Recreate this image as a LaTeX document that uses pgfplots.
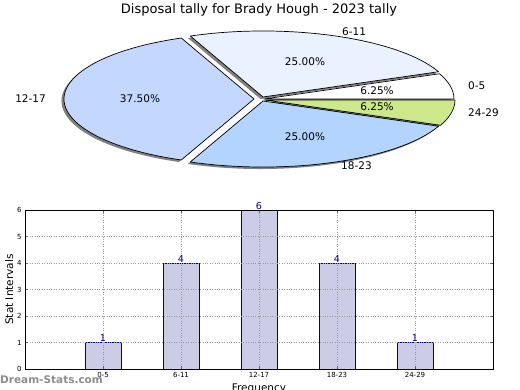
\documentclass[border=0pt]{standalone}
\usepackage{fontspec}
\setmainfont{DejaVu Sans}
\usepackage{pgfplots}
\pgfplotsset{compat=1.18}
\usepackage{pgfplotstable}

\definecolor{sA}{RGB}{255,255,255}
\definecolor{sB}{RGB}{234,242,255}
\definecolor{sC}{RGB}{196,216,255}
\definecolor{sD}{RGB}{179,212,255}
\definecolor{sE}{RGB}{204,232,138}
\definecolor{barfill}{RGB}{204,204,230}
\definecolor{navyc}{RGB}{0,0,128}

\pgfplotstableread{
x y
0 1
1 4
2 6
3 4
4 1
}\bardata

% start angle, end angle, colour, dx, dy (pixels, dy downwards)
\newcommand\pieslice[5]{%
  \fill[#3,draw=black,line width=0.7pt,line join=round]
    (axis cs:{263+#4},{-99-#5}) -- ++(#1:190pt and 66pt)
    arc[start angle=#1,end angle=#2,x radius=190pt,y radius=66pt] -- cycle;}
\newcommand\pieshadow[5]{%
  \fill[black!50]
    (axis cs:{263+#4-2.5},{-99-#5-2}) -- ++(#1:190pt and 66pt)
    arc[start angle=#1,end angle=#2,x radius=190pt,y radius=66pt] -- cycle;}

\begin{document}
\begin{tikzpicture}[x=1pt,y=1pt]
\begin{axis}[at={(0pt,0pt)}, anchor=north west, scale only axis,
  width=520pt, height=200pt, xmin=0, xmax=520, ymin=-200, ymax=0,
  hide axis, clip=false]
% shadows (slices: 1,4,6,4,1 of 16)
\pieshadow{0}{22.5}{sA}{1}{0}
\pieshadow{22.5}{112.5}{sB}{0}{-2}
\pieshadow{112.5}{247.5}{sC}{-9}{0}
\pieshadow{247.5}{337.5}{sD}{0}{2}
\pieshadow{337.5}{360}{sE}{2}{1}
% wedges
\pieslice{0}{22.5}{sA}{1}{0}
\pieslice{22.5}{112.5}{sB}{0}{-2}
\pieslice{112.5}{247.5}{sC}{-9}{0}
\pieslice{247.5}{337.5}{sD}{0}{2}
\pieslice{337.5}{360}{sE}{2}{1}
% labels
\begin{scope}[font=\fontsize{10.5}{12}\selectfont]
\node[anchor=west,inner sep=0pt] at (axis cs:342,-32) {6-11};
\node[anchor=west,inner sep=0pt] at (axis cs:468,-86) {0-5};
\node[anchor=east,inner sep=0pt] at (axis cs:46,-99) {12-17};
\node[anchor=west,inner sep=0pt] at (axis cs:341,-166) {18-23};
\node[anchor=west,inner sep=0pt] at (axis cs:468,-113) {24-29};
\node at (axis cs:305,-62) {25.00\%};
\node at (axis cs:377,-91) {6.25\%};
\node at (axis cs:140,-99) {37.50\%};
\node at (axis cs:305,-137) {25.00\%};
\node at (axis cs:377,-107) {6.25\%};
\end{scope}
\node[font=\fontsize{13}{15}\selectfont] at (axis cs:259,-10) {Disposal tally for Brady Hough - 2023 tally};
\end{axis}

\begin{axis}[at={(25pt,-369pt)}, anchor=south west, scale only axis,
  width=468pt, height=159pt,
  xmin=-1, xmax=5, ymin=0, ymax=6,
  ytick={0,1,2,3,4,5,6}, xtick={0,1,2,3,4},
  xticklabels={0-5,6-11,12-17,18-23,24-29},
  ybar, bar width=36pt,
  axis on top,
  grid=major,
  grid style={dotted, black!40, line width=0.7pt},
  tick align=inside, major tick length=3pt,
  tick style={black!60, line width=0.5pt},
  ticklabel style={font=\fontsize{7}{8}\selectfont},
  /pgf/number format/assume math mode=true,
  axis line style={black, line width=0.8pt},
  ylabel={Stat Intervals}, xlabel={Frequency},
  label style={font=\fontsize{10.5}{12}\selectfont},
  ylabel style={at={(axis description cs:-0.034,0.5)}, anchor=center},
  xlabel style={at={(axis description cs:0.5,0)}, anchor=north, inner sep=0pt, yshift=-15pt},
]
\addplot[fill=barfill, draw=navyc, line width=0.7pt,
  nodes near coords,
  nodes near coords style={font=\fontsize{9.5}{11}\selectfont, text=navyc, anchor=south, inner sep=0.3pt}]
  table[x=x,y=y]{\bardata};
\end{axis}

\node[anchor=west, inner sep=0pt, text=black!45, font=\bfseries\fontsize{10.5}{12}\selectfont] at (0,-380) {Dream-Stats.com};

\pgfresetboundingbox
\path[use as bounding box] (0,0) rectangle (520,-390);
\end{tikzpicture}
\end{document}
